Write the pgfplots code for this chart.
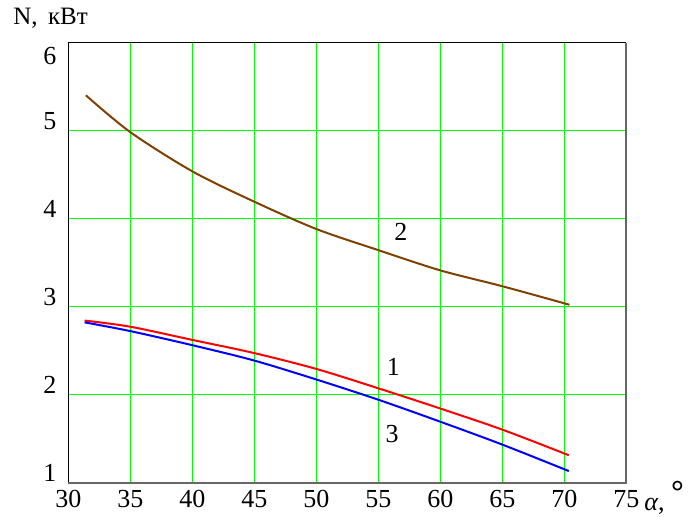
\documentclass[border=0pt]{standalone}
\usepackage{fontspec}
\setmainfont{Liberation Serif}
\usepackage{pgfplots}
\pgfplotsset{compat=1.18}
\definecolor{brn}{RGB}{128,64,0}
\definecolor{grd}{RGB}{0,255,0}
\begin{document}
\begin{tikzpicture}
\begin{axis}[
  at={(0.25pt,0.25pt)}, anchor=origin,
  width=279pt, height=220pt, scale only axis=true,
  xmin=30, xmax=75, ymin=1, ymax=6,
  xtick={30,35,...,75}, ytick={1,2,...,5},
  extra y ticks={6},
  extra y tick style={yticklabel style={anchor=north east, yshift=4pt}},
  /pgf/number format/assume math mode=true,
  ticklabel style={font=\fontsize{13}{15}\selectfont},
  xticklabel style={yshift=-0.5pt},
  yticklabel style={anchor=south east, yshift=-3pt, xshift=-2.5pt},
  major tick length=0pt,
  grid=major, grid style={grd, line width=0.6pt},
  axis line style={draw=none},
  clip=false,
]
\addplot[brn, line width=1pt, smooth] coordinates {
 (31.4,5.40) (35,4.98) (40,4.535) (45,4.19) (50,3.88) (55,3.64) (60,3.41) (65,3.23) (70.4,3.02)};
\addplot[red, line width=1pt, smooth] coordinates {
 (31.3,2.84) (35,2.77) (40,2.62) (45,2.47) (50,2.29) (55,2.07) (60,1.84) (65,1.60) (70.35,1.31)};
\addplot[blue, line width=1pt, smooth] coordinates {
 (31.3,2.82) (35,2.72) (40,2.56) (45,2.385) (50,2.17) (55,1.94) (60,1.69) (65,1.43) (70.35,1.13)};
\draw[black, line width=0.7pt] (rel axis cs:0,0) -- (rel axis cs:0,1) -- (rel axis cs:1,1);
\draw[black!60, line width=1pt] (rel axis cs:0,0) -- (rel axis cs:1,0) -- (rel axis cs:1,1);
\node[font=\fontsize{13}{15}\selectfont] at (axis cs:56.8,3.85) {2};
\node[font=\fontsize{13}{15}\selectfont] at (axis cs:56.2,2.31) {1};
\node[font=\fontsize{13}{15}\selectfont] at (axis cs:56.1,1.55) {3};
\end{axis}
\node[anchor=west, font=\fontsize{12.5}{14}\selectfont, inner sep=0pt] at (-27.5pt,232.5pt) {N,\, кВт};
\node[anchor=base west, font=\fontsize{13}{15}\selectfont, inner sep=0pt] at (288pt,-13.5pt) {\textit{α}, \raisebox{0.3em}{\fontsize{16}{16}\selectfont\textbf{°}}};
\pgfresetboundingbox
\path[use as bounding box] (-34pt,-16.5pt) rectangle (315pt,241.5pt);
\end{tikzpicture}
\end{document}
